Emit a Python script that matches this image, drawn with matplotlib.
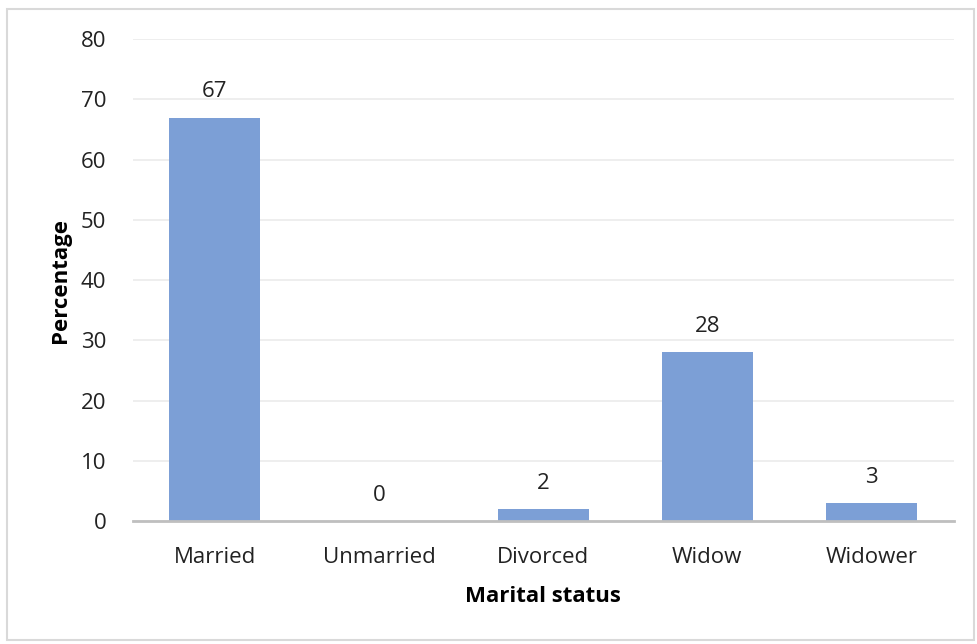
import matplotlib.pyplot as plt
from matplotlib.patches import Rectangle

# marital status distribution (%)
categories = ['Married', 'Unmarried', 'Divorced', 'Widow', 'Widower']
values = [67, 0, 2, 28, 3]
yticks = [0, 10, 20, 30, 40, 50, 60, 70, 80]

plt.rcParams['font.family'] = ['Open Sans', 'DejaVu Sans']

fig = plt.figure(figsize=(9.77, 6.44), dpi=100)
ax = fig.add_axes([0.136, 0.191, 0.840, 0.748])

# thin grey frame round the whole chart
fig.patches.append(Rectangle((0.007, 0.006), 0.99, 0.98, transform=fig.transFigure,
                             fill=False, edgecolor='#d9d9d9', linewidth=1.5))

x = range(len(categories))
bars = ax.bar(x, values, width=0.555, color='#7c9fd6', zorder=3)

for i, v in enumerate(values):
    ax.text(i, v + 4.3, str(v), ha='center', va='center', fontsize=16, color='#222222')

ax.set_xlim(-0.5, len(categories) - 0.5)
ax.set_ylim(0, 80)
ax.set_yticks(yticks)
ax.set_xticks(list(x))
ax.set_xticklabels(categories)
ax.tick_params(axis='both', length=0, labelsize=16, labelcolor='#222222')
ax.tick_params(axis='x', pad=19)
ax.tick_params(axis='y', pad=19)

ax.grid(axis='y', color='#ebebeb', linewidth=1.2, zorder=0)
for side in ['top', 'right', 'left']:
    ax.spines[side].set_visible(False)
ax.spines['bottom'].set_color('#bfbfbf')
ax.spines['bottom'].set_linewidth(2)
ax.spines['bottom'].set_zorder(4)

ax.set_xlabel('Marital status', fontsize=16, fontweight='bold', labelpad=13)
ax.set_ylabel('Percentage', fontsize=16, fontweight='bold', labelpad=7)

plt.savefig('out.png', dpi=100)
